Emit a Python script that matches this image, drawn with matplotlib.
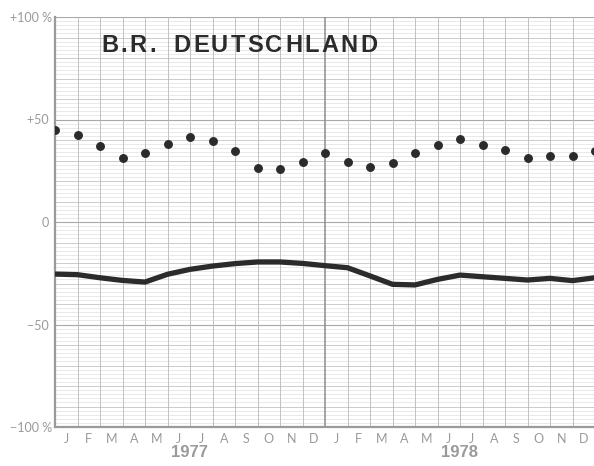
import numpy as np
import matplotlib
matplotlib.use("Agg")
import matplotlib.pyplot as plt

# month positions: 0 = start of Jan 1977 ... 24 = end of Dec 1978
months = ['J', 'F', 'M', 'A', 'M', 'J', 'J', 'A', 'S', 'O', 'N', 'D'] * 2
years = ['1977', '1978']
title = 'B.R. DEUTSCHLAND'

# dots (upper series), one per month boundary
dot_values = [45, 42.3, 37.2, 31.2, 33.5, 38, 41.3, 39.4, 34.5, 26.5, 25.7, 29.3, 33.5,
              29.3, 26.8, 28.6, 33.5, 37.7, 40.3, 37.4, 35, 31.4, 32.3, 32.3, 34.8]
# heavy line (lower series)
line_values = [-25.4, -25.7, -27.2, -28.5, -29.3, -25.5, -23.1, -21.5, -20.3, -19.5, -19.5, -20.2, -21.3,
               -22.3, -26.3, -30.4, -30.7, -28, -25.9, -26.7, -27.5, -28.3, -27.5, -28.6, -27.2]

grey = '#9a9a9a'
ink = '#2b2b2b'

fig = plt.figure(figsize=(5.94, 4.66), dpi=100)
ax = fig.add_axes([55 / 594, 39 / 466, 540 / 594, 410 / 466])

x = np.arange(len(dot_values))

# graph paper grid
for v in np.arange(-100, 101, 2):
    if v % 50 == 0:
        c, lw = '#a8a8a8', 0.8
    elif v % 10 == 0:
        c, lw = '#c4c4c4', 0.6
    else:
        c, lw = '#e0e0e0', 0.5
    ax.axhline(v, color=c, lw=lw, zorder=0)
for k in range(25):
    if k == 12:
        ax.axvline(k, color='#8c8c8c', lw=1.1, zorder=0)
    else:
        ax.axvline(k, color='#b8b8b8', lw=0.6, zorder=0)

ax.plot(x, line_values, color=ink, lw=3.8, solid_capstyle='butt', zorder=3)
ax.plot(x, dot_values, 'o', color=ink, ms=5.4, zorder=3)

ax.set_xlim(0, 24)
ax.set_ylim(-100, 100)

for s in ['top', 'right']:
    ax.spines[s].set_visible(False)
ax.spines['left'].set_color(grey)
ax.spines['left'].set_linewidth(1.6)
ax.spines['bottom'].set_color(grey)
ax.spines['bottom'].set_linewidth(1.6)

ax.set_xticks(np.arange(24) + 0.5)
ax.set_xticklabels(months, fontsize=9, color=grey, family='Lato')
ax.tick_params(axis='x', length=0, pad=4)

ax.set_yticks([100, 50, 0, -50, -100])
ax.set_yticklabels(['+100 %', '+50 ', '0 ', '\u221250 ', '\u2212100 %'],
                   fontsize=9, color=grey, family='Lato')
ax.tick_params(axis='y', length=0, pad=2)

for i, yr in enumerate(years):
    ax.text(6 + 12 * i, -112.5, yr, ha='center', va='center', fontsize=12,
            fontweight='bold', color=grey, family='Liberation Sans')

# title with wide letter spacing, placed one character at a time
renderer = fig.canvas.get_renderer()
xpos = 101
for ch in title:
    t = fig.text(xpos / 594, 1 - 45 / 466, ch, ha='left', va='center', fontsize=17,
                 fontweight='bold', color=ink, family='Liberation Sans', zorder=4)
    if ch == ' ':
        w = 13
    else:
        w = t.get_window_extent(renderer).width
    xpos += w + 2.4

fig.savefig('out.png', dpi=100)
